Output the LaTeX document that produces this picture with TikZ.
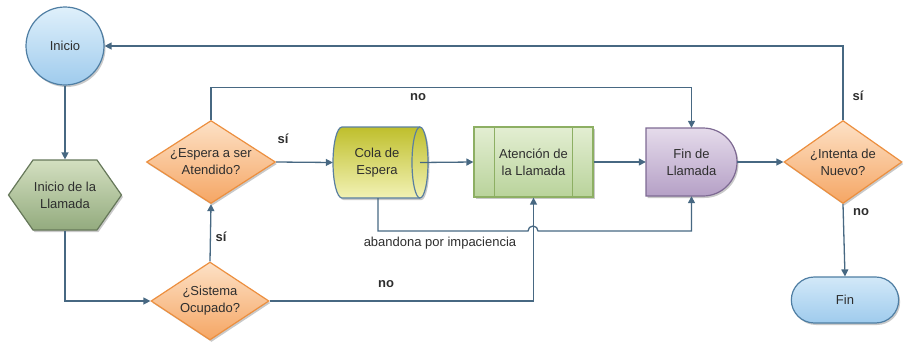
\documentclass[tikz,border=0pt]{standalone}
\usepackage{fontspec}
\setmainfont{Liberation Sans}
\usetikzlibrary{shapes.geometric,shapes.symbols,shapes.misc,arrows.meta,shadows,calc}
\definecolor{lc}{HTML}{476882}
\definecolor{txt}{HTML}{2E2E2E}
\definecolor{bluT}{HTML}{DFF0FB}\definecolor{bluB}{HTML}{9FCBED}\definecolor{bluD}{HTML}{4F7EA3}
\definecolor{hexT}{HTML}{D3DFC0}\definecolor{hexB}{HTML}{93AB7E}\definecolor{hexD}{HTML}{66785A}
\definecolor{orT}{HTML}{FDE1C6}\definecolor{orB}{HTML}{F5A664}\definecolor{orD}{HTML}{EC8F3F}
\definecolor{colT}{HTML}{BFBF2C}\definecolor{colB}{HTML}{F2F2B5}\definecolor{colD}{HTML}{5A7FA0}
\definecolor{atT}{HTML}{E3EED2}\definecolor{atB}{HTML}{B9D39B}\definecolor{atD}{HTML}{8DAF63}
\definecolor{fdT}{HTML}{E5DBEB}\definecolor{fdB}{HTML}{B5A0C6}\definecolor{fdD}{HTML}{7E6A93}
\tikzset{
  ln/.style={draw=lc, line width=1.3pt},
  arr/.style={ln, -{Triangle[length=7pt,width=7pt]}},
  shd/.style={drop shadow={shadow xshift=1.5pt,shadow yshift=-2pt,opacity=0.3,fill=black!70}},
  box/.style={align=center, text=txt, line width=1.2pt, shd},
  dec/.style={box, diamond, aspect=1.5, inner sep=0pt, draw=orD, top color=orT, bottom color=orB},
  lab/.style={font=\fontsize{13}{15}\selectfont\bfseries, text=txt, inner sep=0pt},
  plain/.style={inner sep=0pt, align=center, text=txt},
}
\begin{document}
\begin{tikzpicture}[x=1pt,y=-1pt, font=\fontsize{13}{17}\selectfont]
\useasboundingbox (0,0) rectangle (903,341);

% nodes
\node[box, circle, minimum size=78pt, draw=bluD, top color=bluT, bottom color=bluB] (ini) at (65,46) {Inicio};
\node[box, signal, signal to=west and east, signal pointer angle=110, minimum width=113pt, minimum height=70pt, inner sep=0pt, draw=hexD, top color=hexT, bottom color=hexB] (llam) at (65,195) {Inicio de la\\Llamada};
\node[dec, minimum width=129pt, minimum height=83pt] (esp) at (211,162) {¿Espera a ser\\Atendido?};
\node[dec, minimum width=118pt, minimum height=78pt] (sis) at (210,301) {¿Sistema\\Ocupado?};
\node[dec, minimum width=118pt, minimum height=83pt] (int) at (843,162) {¿Intenta de\\Nuevo?};
\node[box, rounded rectangle, minimum width=114pt, minimum height=46pt, draw=bluD, top color=bluT!80!bluB, bottom color=bluB] (fin) at (845,300) {Fin};

% Cola de Espera (cylinder)
\path[shd, draw=colD, line width=1.2pt, top color=colT, bottom color=colB]
  (342,127) -- (420,127) arc[start angle=-90,end angle=90,x radius=8,y radius=35.5]
  -- (342,198) arc[start angle=90,end angle=270,x radius=9,y radius=35.5] -- cycle;
\draw[draw=colD, line width=1.2pt] (420,127) arc[start angle=-90,end angle=-270,x radius=8,y radius=35.5];
\node[minimum width=95pt, minimum height=71pt, inner sep=0pt] (cola) at (380.5,162.5) {};
\node[plain] (colat) at (377,163) {Cola de\\Espera};
\coordinate (colae) at (420,162.5);

% Atencion
\node[box, rectangle, minimum width=119pt, minimum height=70pt, draw=atD, top color=atT, bottom color=atB] (aten) at (533.5,162) {Atención de\\la Llamada};
\draw[atD, line width=1.2pt] ($(aten.north west)+(21,0)$) -- ($(aten.south west)+(21,0)$);
\draw[atD, line width=1.2pt] ($(aten.north east)+(-21,0)$) -- ($(aten.south east)+(-21,0)$);

% Fin de Llamada (delay)
\path[shd, draw=fdD, line width=1.2pt, top color=fdT, bottom color=fdB]
  (646,128) -- (703,128) arc[start angle=-90,end angle=90,radius=34] -- (646,196) -- cycle;
\node[plain, minimum width=91pt, minimum height=68pt] (fdl) at (691.5,162) {Fin de\\Llamada};

% connectors
\draw[arr] (ini.south) -- (llam.north);
\draw[arr] (llam.south) |- (sis.west);
\draw[arr] (sis.north) -- (esp.south);
\draw[arr] (esp.north) |- ($(fdl.north)+(0,-40)$) -- (fdl.north);
\draw[arr] (esp.east) -- (cola.west);
\draw[arr] (colae) -- (aten.west);
\draw[arr] (aten.east) -- (fdl.west);
\draw[arr] (fdl.east) -- (int.west);
\draw[arr] (int.north) |- (ini.east);
\draw[arr] (int.south) -- (fin.north);
\coordinate (hopL) at (528,231);
\draw[arr] (378,198) |- (hopL) arc[start angle=180,end angle=360,radius=5] -| (fdl.south);
\draw[arr] (sis.east) -| (aten.south);

% labels
\node[lab] (l1) at (221,237) {sí};
\node[lab] (l2) at (283,139) {sí};
\node[lab] (l3) at (418,97) {no};
\node[lab] (l4) at (386,284) {no};
\node[lab] (l5) at (858,96) {sí};
\node[lab] (l6) at (861,212) {no};
\node[plain, font=\fontsize{13}{15}\selectfont] (l7) at (440,243) {abandona por impaciencia};
\end{tikzpicture}
\end{document}
